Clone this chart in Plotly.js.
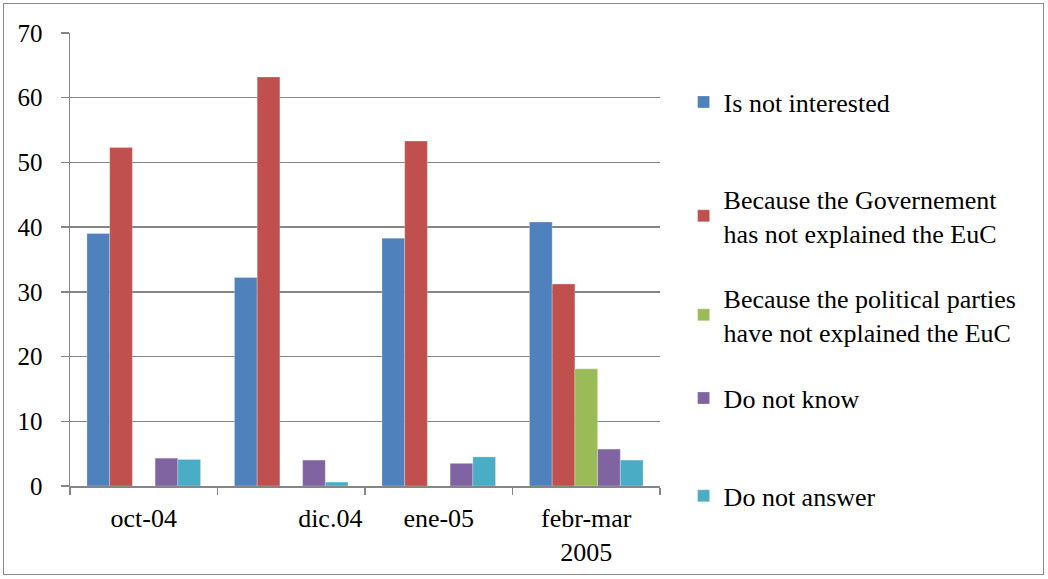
<!DOCTYPE html>
<html>
<head>
<meta charset="utf-8">
<script src="https://cdn.plot.ly/plotly-3.0.1.min.js"></script>
<style>
  html, body { margin: 0; padding: 0; background: #fff; }
  #chart { position: absolute; left: 0; top: 0; width: 1048px; height: 579px; }
  #frame { position: absolute; left: 3px; top: 3px; width: 1041px; height: 572px;
           border: 1.5px solid #8a8a8a; pointer-events: none; box-sizing: border-box; }
</style>
</head>
<body>
<div id="chart"></div>
<div id="frame"></div>
<script>
// ---- data ----
const categories = ["oct-04", "dic.04", "ene-05", "febr-mar 2005"];
const tickLabels = ["oct-04", "dic.04", "ene-05", "febr-mar<br>2005"];
const seriesNames = [
  "Is not interested",
  "Because the Governement<br>has not explained the EuC",
  "Because the political parties<br>have not explained the EuC",
  "Do not know",
  "Do not answer"
];
const notInterested    = [39.0, 32.2, 38.3, 40.8];
const governement      = [52.3, 63.2, 53.3, 31.2];
const politicalParties = [0, 0, 0, 18.1];
const doNotKnow        = [4.3, 4.0, 3.5, 5.7];
const doNotAnswer      = [4.1, 0.6, 4.5, 4.0];

const seriesValues = [notInterested, governement, politicalParties, doNotKnow, doNotAnswer];
const colors = ["#4F81BD", "#C0504D", "#9BBB59", "#8064A2", "#4BACC6"];
const legendIds = ["legend", "legend2", "legend3", "legend4", "legend5"];
const legendY = [0.8477, 0.596, 0.3775, 0.194, -0.022];

const traces = seriesValues.map((vals, i) => ({
  type: "bar",
  name: seriesNames[i],
  x: categories,
  y: vals,
  marker: { color: colors[i], line: { color: "rgba(255,255,255,0.5)", width: 0.5 } },
  legend: legendIds[i],
  showlegend: true,
  hoverinfo: "none"
}));

// the second category label sits right of its slot in the original
const pad = "\u00a0".repeat(12);
const ticktext = tickLabels.map((t, i) => (i === 1 ? pad + t : t));

const fontFamily = "Liberation Serif Regular";
const legendBase = {
  xanchor: "left", yanchor: "middle", x: 1.04,
  bgcolor: "rgba(0,0,0,0)", borderwidth: 0,
  font: { family: fontFamily, size: 26, color: "#000" },
  itemclick: false, itemdoubleclick: false
};

const layout = {
  width: 1048, height: 579,
  margin: { l: 70, r: 388, t: 33, b: 93, pad: 0 },
  paper_bgcolor: "#fff", plot_bgcolor: "#fff",
  barmode: "group", bargap: 0.23, bargroupgap: 0,
  showlegend: true,
  xaxis: {
    type: "category",
    tickvals: categories, ticktext: ticktext,
    tickangle: 0,
    showline: true, linecolor: "#868686", linewidth: 1.5,
    ticks: "outside", tickson: "boundaries", ticklen: 7, tickcolor: "#868686", tickwidth: 1.5,
    showgrid: false, zeroline: false,
    tickfont: { family: fontFamily, size: 26, color: "#000" },
    ticklabelstandoff: 8,
    fixedrange: true
  },
  yaxis: {
    range: [0, 70], dtick: 10, tick0: 0,
    showline: true, linecolor: "#868686", linewidth: 1.5,
    ticks: "outside", ticklen: 8, tickcolor: "#868686", tickwidth: 1.5,
    showgrid: true, gridcolor: "#868686", gridwidth: 1.5,
    zeroline: false,
    tickfont: { family: fontFamily, size: 25, color: "#000" },
    ticklabelstandoff: 13,
    fixedrange: true
  }
};
legendIds.forEach((id, i) => {
  layout[id] = Object.assign({}, legendBase, { y: legendY[i] });
});

Plotly.newPlot("chart", traces, layout, { displayModeBar: false, staticPlot: true });
</script>
</body>
</html>
